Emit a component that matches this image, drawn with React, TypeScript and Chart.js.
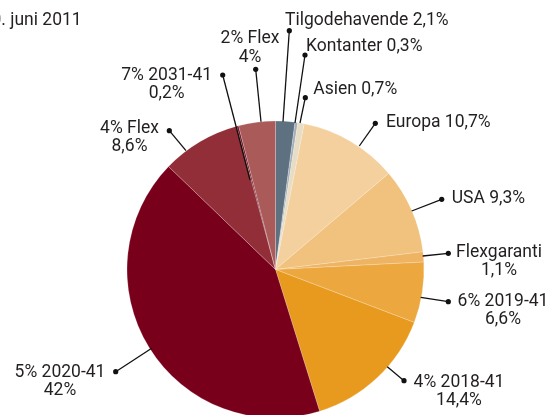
import React, { useEffect, useRef } from "react";
import { Chart, registerables } from "chart.js";

Chart.register(...registerables);

const TITLE = "30. juni 2011";

const categories = [
  "Tilgodehavende",
  "Kontanter",
  "Asien",
  "Europa",
  "USA",
  "Flexgaranti",
  "6% 2019-41",
  "4% 2018-41",
  "5% 2020-41",
  "4% Flex",
  "7% 2031-41",
  "2% Flex",
];

const shares = [2.1, 0.3, 0.7, 10.7, 9.3, 1.1, 6.6, 14.4, 42, 8.6, 0.2, 4];

const sliceColors = [
  "#5d7181",
  "#a3aeb8",
  "#e7dcc4",
  "#f4d09e",
  "#f1c27d",
  "#eeb463",
  "#eca83f",
  "#e89a1e",
  "#79001a",
  "#912e37",
  "#6e0f1d",
  "#ab5a5a",
];

// Annotation layout (relative to pie centre): line start, dot, text anchor, lines count, align
const labelLayout = [
  { s: [7.5, -147.8], d: [13.8, -238.8], t: [9.5, -244.5], two: false, align: "left" },
  { s: [19.5, -146.5], d: [29.5, -214.5], t: [30.5, -218.5], two: false, align: "left" },
  { s: [24.5, -146.5], d: [29.8, -171.8], t: [37.8, -175.5], two: false, align: "left" },
  { s: [83.8, -123.5], d: [99.8, -146.2], t: [110.5, -142.2], two: false, align: "left" },
  { s: [136.2, -58.5], d: [166.2, -70.2], t: [176.2, -66.2], two: false, align: "left" },
  { s: [147.2, -13.5], d: [172.8, -16.2], t: [223.5, -12.8], two: true, align: "center" },
  { s: [145.2, 27.8], d: [172.8, 32.2], t: [227.5, 36.5], two: true, align: "center" },
  { s: [111.8, 97.2], d: [128.5, 111.2], t: [183.5, 117.2], two: true, align: "center" },
  { s: [-123.8, 78.8], d: [-159.8, 102.2], t: [-215.5, 107.2], two: true, align: "center" },
  { s: [-89.5, -118.8], d: [-106.2, -138.8], t: [-146, -136.8], two: true, align: "center" },
  { s: [-25.5, -89.5], d: [-52.8, -194.5], t: [-108.8, -189.5], two: true, align: "center" },
  { s: [-14.5, -147.8], d: [-19.8, -200.2], t: [-25.5, -226.2], two: true, align: "center" },
];

const FONT = "17.5px Roboto, 'DejaVu Sans', sans-serif";
const TEXT_COLOR = "#231f20";
const LINE_H = 18.4;

const fmt = (v: number) => String(v).replace(".", ",") + "%";

const labelPlugin = {
  id: "leaderLabels",
  afterDraw(chart: any) {
    const ctx = chart.ctx as CanvasRenderingContext2D;
    const arc = chart.getDatasetMeta(0).data[0] as any;
    if (!arc) return;
    const cx = arc.x;
    const cy = arc.y;
    ctx.save();
    ctx.font = FONT;
    ctx.fillStyle = TEXT_COLOR;
    ctx.textBaseline = "alphabetic";
    // title (partially outside the canvas on the left)
    ctx.textAlign = "right";
    ctx.fillText(TITLE, 81.7, 25);

    categories.forEach((name, i) => {
      const L = labelLayout[i];
      ctx.strokeStyle = "#111";
      ctx.lineWidth = 1.3;
      ctx.beginPath();
      ctx.moveTo(cx + L.s[0], cy + L.s[1]);
      ctx.lineTo(cx + L.d[0], cy + L.d[1]);
      ctx.stroke();
      ctx.fillStyle = "#111";
      ctx.beginPath();
      ctx.arc(cx + L.d[0], cy + L.d[1], 2.6, 0, Math.PI * 2);
      ctx.fill();
      ctx.fillStyle = TEXT_COLOR;
      ctx.textAlign = L.align as CanvasTextAlign;
      const tx = cx + L.t[0];
      const ty = cy + L.t[1];
      if (L.two) {
        ctx.fillText(name, tx, ty);
        ctx.fillText(fmt(shares[i]), tx, ty + LINE_H);
      } else {
        ctx.fillText(name + " " + fmt(shares[i]), tx, ty);
      }
    });
    ctx.restore();
  },
};

export default function App() {
  const ref = useRef<HTMLCanvasElement | null>(null);
  useEffect(() => {
    if (!ref.current) return;
    const chart = new Chart(ref.current, {
      type: "pie",
      data: {
        labels: categories,
        datasets: [
          {
            data: shares,
            backgroundColor: sliceColors,
            borderColor: "rgba(255,255,255,0.35)",
            borderWidth: 0.6,
            hoverOffset: 0,
          },
        ],
      },
      options: {
        responsive: false,
        animation: false,
        radius: 148.5,
        layout: { padding: { left: 0, right: 4, top: 121, bottom: 2 } },
        plugins: {
          legend: { display: false },
          tooltip: { enabled: false },
          title: { display: false },
        },
        events: [],
      } as any,
      plugins: [labelPlugin],
    });
    return () => chart.destroy();
  }, []);
  return (
    <div style={{ position: "fixed", left: 0, top: 0, width: 555, height: 420, background: "#fff" }}>
      <canvas ref={ref} width={555} height={420} style={{ display: "block" }} />
    </div>
  );
}
